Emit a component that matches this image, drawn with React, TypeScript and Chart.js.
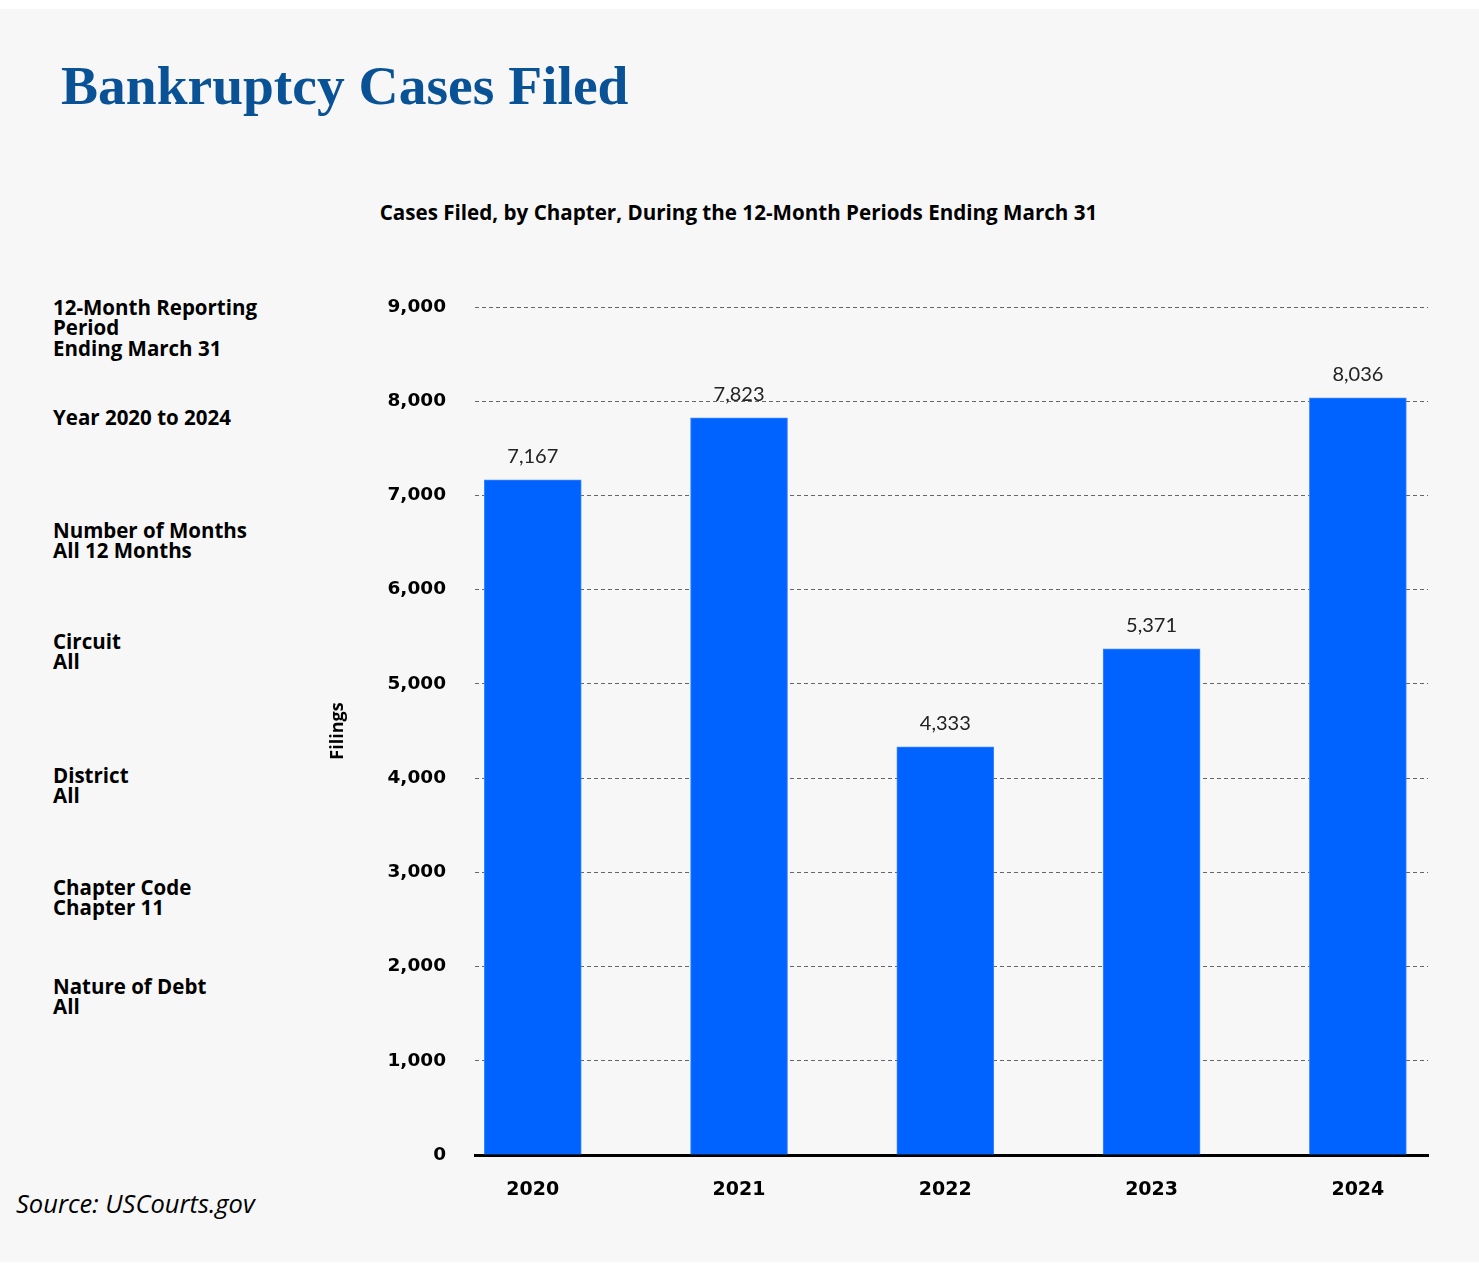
import React, { useEffect, useRef } from "react";
import { Chart, registerables } from "chart.js";

Chart.register(...registerables);

const years = [2020, 2021, 2022, 2023, 2024];
const filings = [7167, 7823, 4333, 5371, 8036];
const yTicks = [0, 1000, 2000, 3000, 4000, 5000, 6000, 7000, 8000, 9000];

const filterBlocks: { lines: string[]; baseline: number }[] = [
  { lines: ["12-Month Reporting", "Period", "Ending March 31"], baseline: 315 },
  { lines: ["Year 2020 to 2024"], baseline: 425 },
  { lines: ["Number of Months", "All 12 Months"], baseline: 538 },
  { lines: ["Circuit", "All"], baseline: 649 },
  { lines: ["District", "All"], baseline: 783 },
  { lines: ["Chapter Code", "Chapter 11"], baseline: 895 },
  { lines: ["Nature of Debt", "All"], baseline: 994 },
];

const SANS = "'Open Sans', 'Noto Sans', sans-serif";

export default function App() {
  const canvasRef = useRef<HTMLCanvasElement | null>(null);

  useEffect(() => {
    if (!canvasRef.current) return;
    const labels = filings.map((v) => v.toLocaleString("en-US"));
    const valueLabelPlugin = {
      id: "valueLabels",
      afterDatasetsDraw(chart: any) {
        const { ctx } = chart;
        const meta = chart.getDatasetMeta(0);
        ctx.save();
        ctx.font = "20px Lato, 'Open Sans', sans-serif";
        ctx.fillStyle = "#222222";
        ctx.textAlign = "center";
        ctx.textBaseline = "alphabetic";
        meta.data.forEach((bar: any, i: number) => {
          ctx.fillText(labels[i], bar.x, bar.y - 17);
        });
        ctx.restore();
      },
    };

    const chart = new Chart(canvasRef.current, {
      type: "bar",
      data: {
        datasets: [
          {
            label: "Filings",
            data: years.map((y, i) => ({ x: y, y: filings[i] })),
            backgroundColor: "#0062ff",
            borderColor: "#3f86ff",
            borderWidth: 1,
            barThickness: 97,
          },
        ],
      },
      options: {
        animation: false,
        responsive: false,
        maintainAspectRatio: false,
        layout: { padding: { left: 20, right: 51, top: 127, bottom: 25 } },
        plugins: {
          legend: { display: false },
          tooltip: { enabled: false },
        },
        scales: {
          x: {
            type: "linear",
            offset: false,
            min: 2019.72,
            max: 2024.34,
            afterFit: (scale: any) => {
              scale.height = 40;
            },
            afterBuildTicks: (scale: any) => {
              scale.ticks = years.map((v) => ({ value: v }));
            },
            grid: { display: false },
            border: { display: true, color: "#000000", width: 3 },
            ticks: {
              stepSize: 1,
              includeBounds: false,
              padding: 16,
              color: "#000000",
              font: { family: "'DejaVu Sans'", weight: "bold", size: 19 },
              callback: (v: any) => String(v),
            },
          },
          y: {
            min: 0,
            max: 9000,
            afterFit: (scale: any) => {
              scale.width = 155;
            },
            afterBuildTicks: (scale: any) => {
              scale.ticks = yTicks.map((v) => ({ value: v }));
            },
            grid: { color: "#666666", lineWidth: 1, drawTicks: false },
            border: { display: false, dash: [4, 3] },
            ticks: {
              padding: 29,
              color: "#000000",
              font: { family: "'DejaVu Sans'", weight: "bold", size: 18.5 },
              callback: (v: any) => Number(v).toLocaleString("en-US"),
            },
            title: {
              display: true,
              text: "Filings",
              color: "#000000",
              padding: { top: 7, bottom: 0 },
              font: { family: SANS, weight: "bold", size: 18 },
            },
          },
        },
      },
      plugins: [valueLabelPlugin],
    });
    return () => chart.destroy();
  }, []);

  return (
    <div
      style={{
        position: "absolute",
        left: 0,
        top: 0,
        width: 1479,
        height: 1268,
        background: "#ffffff",
        overflow: "hidden",
      }}
    >
      <div
        style={{
          position: "absolute",
          left: 0,
          top: 9,
          width: 1479,
          height: 1253,
          background: "#f7f7f7",
        }}
      />
      <div
        style={{
          position: "absolute",
          left: 61,
          top: 57.5,
          fontFamily: "'Liberation Serif', serif",
          fontWeight: "bold",
          fontSize: 55.5,
          lineHeight: "55.5px",
          color: "#0a5296",
          whiteSpace: "nowrap",
        }}
      >
        Bankruptcy Cases Filed
      </div>
      <div
        style={{
          position: "absolute",
          left: 0,
          width: 1477,
          top: 202,
          textAlign: "center",
          fontFamily: SANS,
          fontWeight: "bold",
          fontSize: 20.6,
          lineHeight: "20.5px",
          color: "#000000",
          whiteSpace: "nowrap",
        }}
      >
        Cases Filed, by Chapter, During the 12-Month Periods Ending March 31
      </div>
      {filterBlocks.map((b, i) => (
        <div
          key={i}
          style={{
            position: "absolute",
            left: 53,
            top: b.baseline - 18.4,
            fontFamily: SANS,
            fontWeight: "bold",
            fontSize: 20.5,
            lineHeight: "20.8px",
            color: "#000000",
            whiteSpace: "nowrap",
          }}
        >
          {b.lines.map((l, j) => (
            <div key={j}>{l}</div>
          ))}
        </div>
      ))}
      <canvas
        ref={canvasRef}
        width={1179}
        height={1040}
        style={{ position: "absolute", left: 300, top: 180, width: 1179, height: 1040 }}
      />
      <div
        style={{
          position: "absolute",
          left: 16,
          top: 1191,
          fontFamily: SANS,
          fontStyle: "italic",
          fontSize: 25.5,
          lineHeight: "25.5px",
          color: "#000000",
          whiteSpace: "nowrap",
        }}
      >
        Source: USCourts.gov
      </div>
    </div>
  );
}
